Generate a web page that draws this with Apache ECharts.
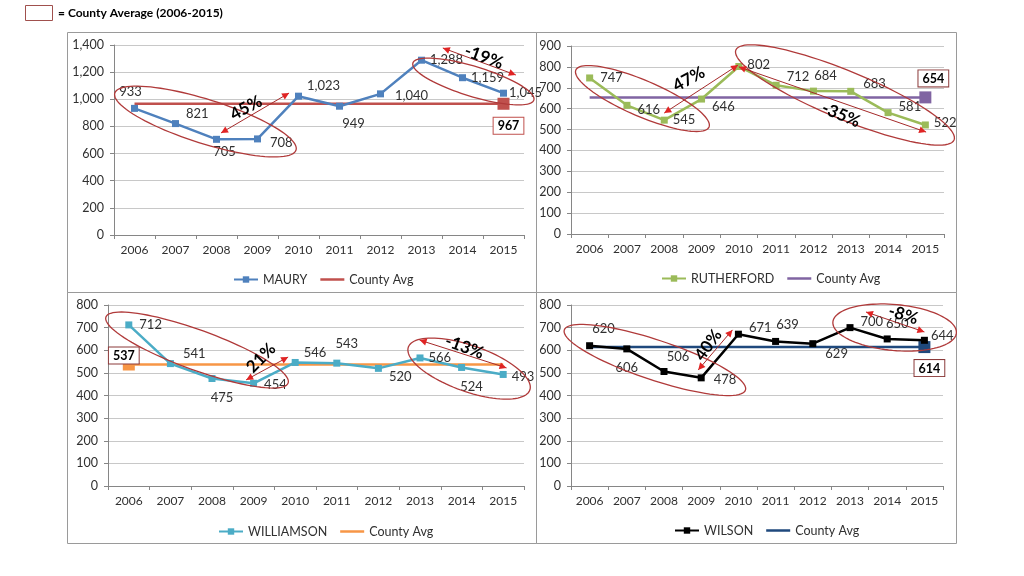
<!DOCTYPE html>
<html><head><meta charset="utf-8">
<script src="https://cdn.jsdelivr.net/npm/echarts@6/dist/echarts.min.js"></script>
<style>html,body{margin:0;padding:0;background:#fff}#c{width:1024px;height:576px}</style>
</head><body><div id="c"></div><script>
const years = ['2006','2007','2008','2009','2010','2011','2012','2013','2014','2015'];
const maury = [933, 821, 705, 708, 1023, 949, 1040, 1288, 1159, 1045];
const mauryAvg = [967, 967, 967, 967, 967, 967, 967, 967, 967, 967];
const rutherford = [747, 616, 545, 646, 802, 712, 684, 683, 581, 522];
const rutherfordAvg = [654, 654, 654, 654, 654, 654, 654, 654, 654, 654];
const williamson = [712, 541, 475, 454, 546, 543, 520, 566, 524, 493];
const williamsonAvg = [537, 537, 537, 537, 537, 537, 537, 537, 537, 537];
const wilson = [620, 606, 506, 478, 671, 639, 629, 700, 650, 644];
const wilsonAvg = [614, 614, 614, 614, 614, 614, 614, 614, 614, 614];
const seriesNames = ['MAURY', 'RUTHERFORD', 'WILLIAMSON', 'WILSON'];
const avgName = 'County Avg';
const pctLabels = [['45%', '-19%'], ['47%', '-35%'], ['21%', '-13%'], ['40%', '-8%']];
const headerText = '= County Average (2006-2015)';

const FONT = 'Lato, "Open Sans", sans-serif';
const fmt = v => Number(v).toLocaleString('en-US');

const panels = [
  { name: seriesNames[0], values: maury, avg: mauryAvg, avgIdx: 9,
    color: '#4F81BD', avgColor: '#C0504D', boxColor: '#C0504D',
    grid: { left: 114, top: 45, width: 410, height: 190 }, yMax: 1400, yStep: 200,
    legend: { left: 228, top: 268 },
    labels: [['top',[-4,-2]],['right',[2,-10]],['bottom',[8,-3]],['right',[4,4]],['right',[0,-10]],['bottom',[14,3]],['right',[6,2]],['right',[0,0]],['right',[0,0]],['right',[-3,0]]],
    avgLabel: ['bottom',[5,3]],
    ellipses: [[-0.48,1046,3.94,626,22],[6.79,1267,9.74,995,15]],
    arrows: [[2.11,752,3.77,1046],[7.52,1378,9.30,1179]],
    texts: [[2.72,936,0.5],[8.52,1311,-0.35]] },
  { name: seriesNames[1], values: rutherford, avg: rutherfordAvg, avgIdx: 9,
    color: '#9BBB59', avgColor: '#8064A2', boxColor: '#8B3A3A',
    grid: { left: 571, top: 46, width: 373, height: 188 }, yMax: 900, yStep: 100,
    legend: { left: 656, top: 267 },
    labels: [['right',[2,0]],['right',[2,4]],['right',[0,0]],['right',[2,8]],['right',[0,-2]],['right',[2,-8]],['top',[12,0]],['right',[4,-8]],['right',[2,-6]],['right',[0,-2]]],
    avgLabel: ['top',[8,0]],
    ellipses: [[-0.37,785,3.2,512,18],[3.92,881,9.77,450,24]],
    arrows: [[2.0,579,3.98,809],[4.0,800,9.02,488]],
    texts: [[2.66,742,0.5],[6.74,570,-0.4]] },
  { name: seriesNames[2], values: williamson, avg: williamsonAvg, avgIdx: 0,
    color: '#4BACC6', avgColor: '#F79646', boxColor: '#8B3A3A',
    grid: { left: 108, top: 305, width: 416, height: 181 }, yMax: 800, yStep: 100,
    legend: { left: 213, top: 520 },
    labels: [['right',[2,0]],['right',[4,-10]],['bottom',[10,4]],['right',[2,2]],['right',[0,-10]],['top',[10,-4]],['right',[2,8]],['right',[0,0]],['bottom',[10,4]],['right',[0,2]]],
    avgLabel: ['top',[-5,10]],
    ellipses: [[-0.55,747,3.83,455,20],[6.72,614,9.64,424,23]],
    arrows: [[2.82,469,3.83,570],[6.99,645,9.08,522]],
    texts: [[3.18,566,0.8],[8.07,614,-0.35]] },
  { name: seriesNames[3], values: wilson, avg: wilsonAvg, avgIdx: 9,
    color: '#000000', avgColor: '#1F497D', boxColor: '#8B3A3A',
    grid: { left: 571, top: 305, width: 372, height: 181 }, yMax: 800, yStep: 100,
    legend: { left: 669, top: 519 },
    labels: [['top',[14,-2]],['bottom',[0,4]],['top',[14,0]],['right',[4,2]],['right',[2,-6]],['top',[12,-2]],['right',[4,10]],['right',[2,-6]],['top',[10,0]],['right',[-2,-4]]],
    avgLabel: ['bottom',[5,2]],
    ellipses: [[-0.68,690,4.19,424,20],[6.54,725,9.86,676,23]],
    arrows: [[2.92,513,3.84,690],[7.43,769,9.0,681]],
    texts: [[3.19,623,0.95],[8.43,756,-0.3]] }
];

const grids = [], xAxes = [], yAxes = [], series = [], legends = [];
panels.forEach((p, gi) => {
  grids.push(Object.assign({ containLabel: false }, p.grid));
  xAxes.push({ type: 'category', gridIndex: gi, data: years, boundaryGap: true,
    axisLine: { lineStyle: { color: '#868686' } },
    axisTick: { show: true, length: 4, interval: 0, lineStyle: { color: '#868686' } },
    axisLabel: { color: '#303030', fontSize: 12, fontFamily: FONT, margin: 9, interval: 0 } });
  yAxes.push({ type: 'value', gridIndex: gi, min: 0, max: p.yMax, interval: p.yStep,
    axisLine: { show: true, lineStyle: { color: '#868686' } },
    axisTick: { show: true, length: 4, lineStyle: { color: '#868686' } },
    splitLine: { lineStyle: { color: '#C8C8C8' } },
    axisLabel: { color: '#303030', fontSize: 12.5, fontFamily: FONT, margin: 10, formatter: fmt } });
  const avgSeriesName = avgName + '\u200b'.repeat(gi);
  series.push({ type: 'line', name: avgSeriesName, xAxisIndex: gi, yAxisIndex: gi,
    symbol: 'none', lineStyle: { color: p.avgColor, width: 2.5 }, itemStyle: { color: p.avgColor },
    z: 2, animation: false,
    data: p.avg.map((v, i) => i === p.avgIdx ? { value: v, symbol: 'rect', symbolSize: 12,
      label: { show: true, position: p.avgLabel[0], offset: p.avgLabel[1], formatter: o => fmt(o.value),
        color: '#000', fontWeight: 'bold', fontSize: 12.5, fontFamily: FONT, backgroundColor: '#fff',
        borderColor: p.boxColor, borderWidth: 1, padding: [2, 4, 1, 4] } } : v) });
  series.push({ type: 'line', name: p.name, xAxisIndex: gi, yAxisIndex: gi,
    symbol: 'rect', symbolSize: 7, lineStyle: { color: p.color, width: 2.5 }, itemStyle: { color: p.color },
    z: 3, animation: false,
    label: { show: true, color: '#303030', fontSize: 13, fontFamily: FONT, formatter: o => fmt(o.value) },
    data: p.values.map((v, i) => ({ value: v, label: { position: p.labels[i][0], offset: p.labels[i][1] } })) });
  series.push({ type: 'custom', xAxisIndex: gi, yAxisIndex: gi, clip: false, silent: true, z: 5,
    animation: false, data: [[0, 0]],
    renderItem: (params, api) => {
      const pt = (fx, v) => { const a = api.coord([0, v]); const b = api.coord([1, v]); return [a[0] + (b[0] - a[0]) * fx, a[1]]; };
      const children = [];
      p.ellipses.forEach(e => {
        const A = pt(e[0], e[1]), B = pt(e[2], e[3]);
        const cx = (A[0] + B[0]) / 2, cy = (A[1] + B[1]) / 2;
        const a = Math.hypot(B[0] - A[0], B[1] - A[1]) / 2, b = e[4];
        const th = Math.atan2(B[1] - A[1], B[0] - A[0]);
        const pts = [];
        for (let k = 0; k < 96; k++) {
          const t = k / 96 * 2 * Math.PI, x = a * Math.cos(t), y = b * Math.sin(t);
          pts.push([cx + x * Math.cos(th) - y * Math.sin(th), cy + x * Math.sin(th) + y * Math.cos(th)]);
        }
        children.push({ type: 'polygon', shape: { points: pts }, style: { fill: null, stroke: '#B03A3A', lineWidth: 1.3 } });
      });
      p.arrows.forEach(r => {
        const A = pt(r[0], r[1]), B = pt(r[2], r[3]);
        children.push({ type: 'line', shape: { x1: A[0], y1: A[1], x2: B[0], y2: B[1] }, style: { stroke: '#A52A2A', lineWidth: 1 } });
        [[A, B], [B, A]].forEach(([tip, from]) => {
          const ang = Math.atan2(tip[1] - from[1], tip[0] - from[0]);
          const L = 7, W = 3.5;
          const bx = tip[0] - L * Math.cos(ang), by = tip[1] - L * Math.sin(ang);
          children.push({ type: 'polygon', shape: { points: [tip,
            [bx - W * Math.sin(ang), by + W * Math.cos(ang)], [bx + W * Math.sin(ang), by - W * Math.cos(ang)]] },
            style: { fill: '#E02424' } });
        });
      });
      p.texts.forEach((t, k) => {
        const P = pt(t[0], t[1]);
        children.push({ type: 'text', x: P[0], y: P[1], rotation: t[2],
          style: { text: pctLabels[gi][k], fontSize: 17, fontWeight: 'bold', fontFamily: FONT, fill: '#000', align: 'center', verticalAlign: 'middle' } });
      });
      return { type: 'group', children };
    } });
  legends.push({ left: p.legend.left, top: p.legend.top, itemWidth: 24, itemHeight: 8, itemGap: 13,
    data: [p.name, { name: avgSeriesName, icon: 'path://M0,0L24,0L24,2.5L0,2.5Z', itemStyle: { color: p.avgColor } }],
    selectedMode: false,
    textStyle: { color: '#303030', fontSize: 12.5, fontFamily: FONT } });
});

const border = { fill: null, stroke: '#9A9A9A', lineWidth: 1 };
const chart = echarts.init(document.getElementById('c'));
chart.setOption({
  animation: false,
  backgroundColor: '#fff',
  grid: grids, xAxis: xAxes, yAxis: yAxes, series: series, legend: legends,
  graphic: [
    { type: 'rect', shape: { x: 67.5, y: 32.5, width: 469, height: 260 }, style: border, silent: true },
    { type: 'rect', shape: { x: 536.5, y: 32.5, width: 420, height: 260 }, style: border, silent: true },
    { type: 'rect', shape: { x: 67.5, y: 292.5, width: 469, height: 251 }, style: border, silent: true },
    { type: 'rect', shape: { x: 536.5, y: 292.5, width: 420, height: 251 }, style: border, silent: true },
    { type: 'rect', shape: { x: 25.5, y: 5.5, width: 27, height: 15 }, style: { fill: '#fff', stroke: '#A0504D', lineWidth: 1 }, silent: true },
    { type: 'text', x: 58, y: 13, style: { text: headerText, fontSize: 12, fontWeight: 'bold', fontFamily: FONT, fill: '#000', verticalAlign: 'middle' }, silent: true }
  ]
});
</script></body></html>
